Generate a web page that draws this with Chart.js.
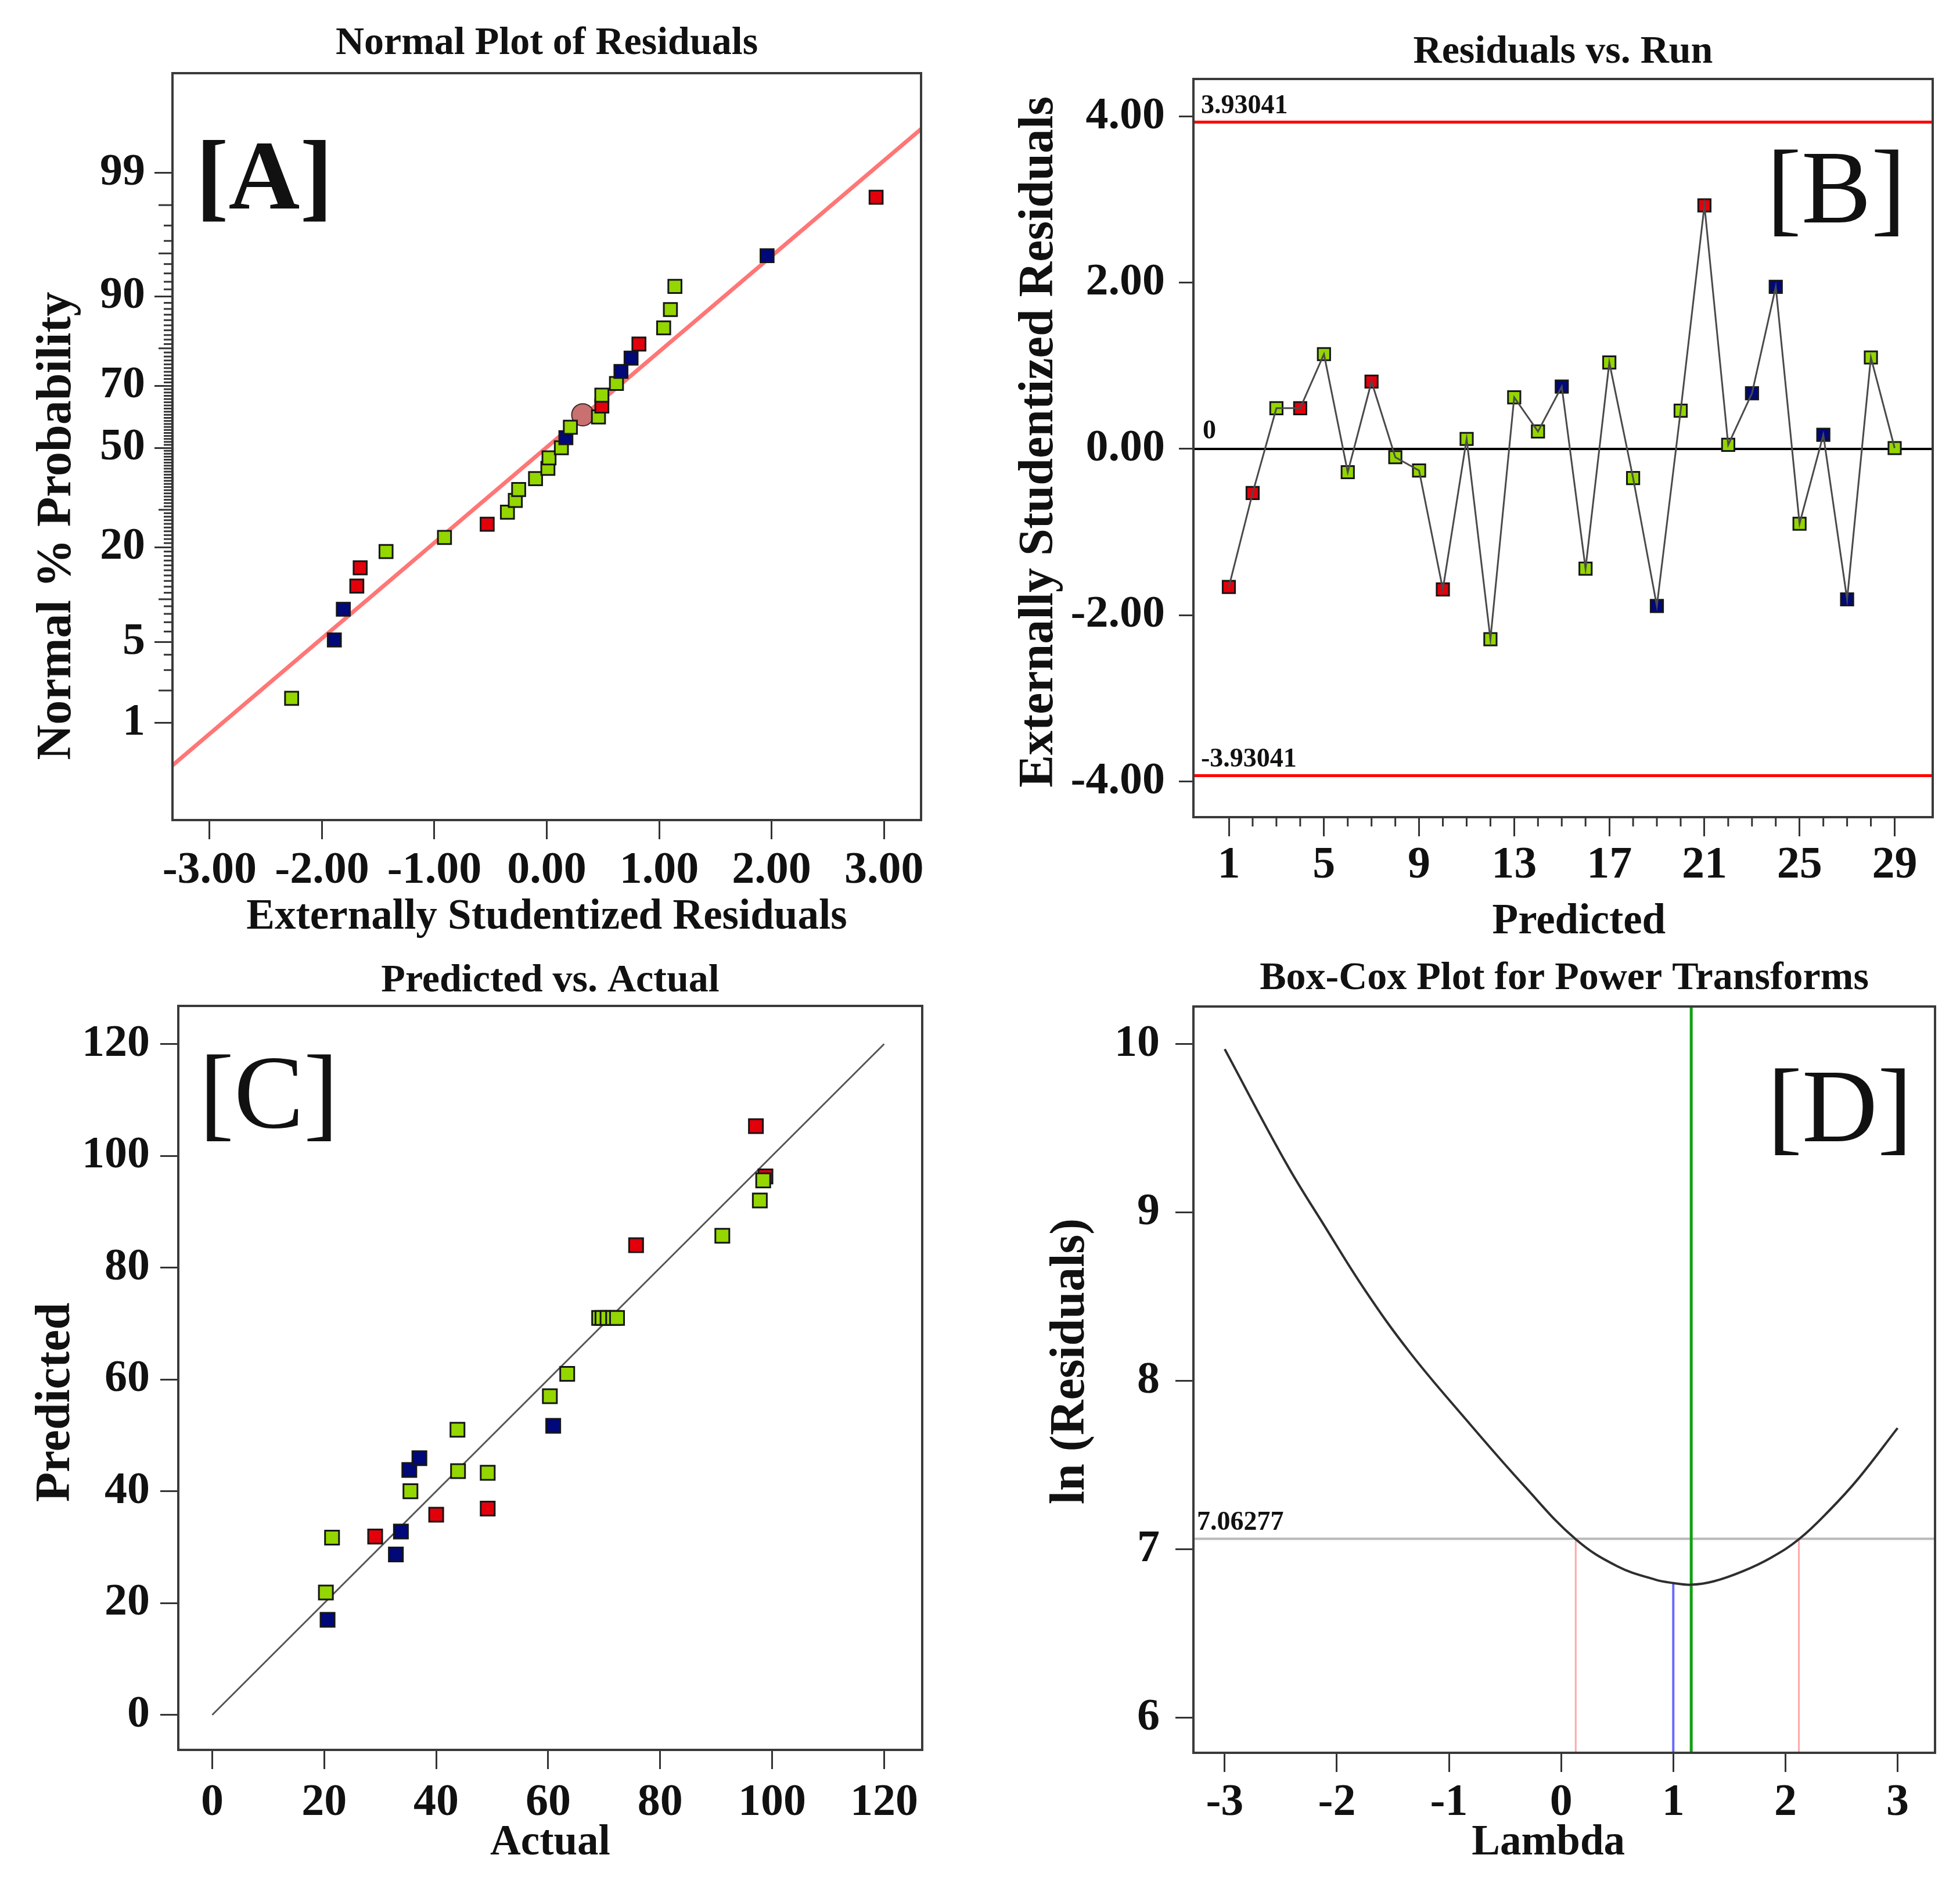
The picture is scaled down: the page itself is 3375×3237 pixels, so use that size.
<!DOCTYPE html>
<html><head><meta charset="utf-8">
<script src="https://cdn.jsdelivr.net/npm/chart.js@4.4.1/dist/chart.umd.min.js"></script>
<style>
html,body{margin:0;padding:0;background:#fff;width:3375px;height:3237px;overflow:hidden;}
canvas{position:absolute;}
</style></head><body>
<canvas id="cA"></canvas><canvas id="cB"></canvas><canvas id="cC"></canvas><canvas id="cD"></canvas>
<script>
// ================= DATA =================
// [A] Normal plot of residuals (residual, normal % probability, factor group)
const normTickProbs = [1, 5, 20, 50, 70, 90, 99];
const normMinorProbs = [2,3,4,6,7,8,9,10,11,12,13,14,15,16,17,18,19,21,22,23,24,25,26,27,28,29,30,31,32,33,34,35,36,37,38,39,40,41,42,43,44,45,46,47,48,49,51,52,53,54,55,56,57,58,59,60,61,62,63,64,65,66,67,68,69,71,72,73,74,75,76,77,78,79,80,81,82,83,84,85,86,87,88,89,91,92,93,94,95,96,97,98];
const normMediumProbs = [2, 10, 30, 80, 95, 98];
const normResTicks = [-3, -2, -1, 0, 1, 2, 3];
const normResiduals = [-2.27, -1.89, -1.81, -1.69, -1.66, -1.43, -0.91, -0.53, -0.35, -0.28, -0.25, -0.10, 0.01, 0.02, 0.13, 0.17, 0.21, 0.46, 0.49, 0.49, 0.62, 0.66, 0.75, 0.82, 1.04, 1.10, 1.14, 1.96, 2.93];
const normProbs = [1.7, 5.2, 8.6, 12.1, 15.5, 19.0, 22.4, 25.9, 29.3, 32.8, 36.2, 39.7, 43.1, 46.6, 50.0, 53.4, 56.9, 60.3, 63.8, 67.2, 70.7, 74.1, 77.6, 81.0, 84.5, 87.9, 91.4, 94.8, 98.3];
const normGroups = ['g','b','b','r','r','g','g','r','g','g','g','g','g','g','g','b','g','g','r','g','g','b','b','r','g','g','g','b','r'];
const normFitResid = [-3.33, 3.33];
const normFitProbs = [0.36, 99.65];
const normHighlightResid = [0.32];
const normHighlightProbs = [61.0];

// [B] Residuals vs. run
const runs = [1,2,3,4,5,6,7,8,9,10,11,12,13,14,15,16,17,18,19,20,21,22,23,24,25,26,27,28,29];
const runResiduals = [-1.66,-0.53,0.49,0.49,1.14,-0.28,0.81,-0.10,-0.26,-1.69,0.12,-2.29,0.62,0.21,0.75,-1.44,1.04,-0.35,-1.89,0.46,2.93,0.05,0.67,1.95,-0.90,0.17,-1.81,1.10,0.01];
const runGroups = ['r','r','g','r','g','g','r','g','g','r','g','g','g','g','b','g','g','g','b','g','r','g','b','b','g','b','b','g','g'];
const runTicks = [1, 5, 9, 13, 17, 21, 25, 29];
const runResidTicks = [-4, -2, 0, 2, 4];
const runLimit = 3.93041;

// [C] Predicted vs. actual
const actualVals =    [97.1, 98.8, 75.7, 29.1, 40.0, 49.2, 20.6, 32.8, 33.7, 35.2, 37.0, 60.9, 20.3, 21.4, 35.4, 43.8, 43.9, 49.2, 60.3, 63.4, 69.1, 69.7, 70.6, 71.6, 72.3, 91.1, 97.8, 98.4];
const predictedVals = [105.3, 96.3, 84.0, 31.9, 35.8, 36.9, 17.0, 28.7, 32.8, 43.8, 45.9, 51.7, 21.9, 31.7, 40.0, 51.0, 43.6, 43.3, 57.0, 61.0, 71.0, 71.0, 71.0, 71.0, 71.0, 85.7, 92.0, 95.6];
const predGroups =    ['r','r','r','r','r','r','b','b','b','b','b','b','g','g','g','g','g','g','g','g','g','g','g','g','g','g','g','g'];
const predTicks = [0, 20, 40, 60, 80, 100, 120];
const diagLine = [0, 120];

// [D] Box-Cox plot for power transforms
const lambdas =  [-3.00, -2.45, -2.11, -1.75, -1.35, -0.86, -0.32, 0.13, 0.50, 0.84, 1.00, 1.16, 1.36, 1.62, 1.87, 2.12, 2.39, 2.65, 3.00];
const lnResid =  [9.97, 9.29, 8.92, 8.54, 8.17, 7.78, 7.37, 7.06, 6.90, 6.82, 6.80, 6.79, 6.81, 6.87, 6.95, 7.06, 7.23, 7.42, 7.72];
const lambdaTicks = [-3, -2, -1, 0, 1, 2, 3];
const lnTicks = [6, 7, 8, 9, 10];
const lambdaBest = 1.16;
const lambdaCurrent = 1;
const lambdaLow = 0.13;
const lambdaHigh = 2.12;
const lnCurrent = 6.80;
const lnCutoff = 7.06277;

// ================= STYLE / LAYOUT =================
const SERIF = "'Liberation Serif','Times New Roman',serif";
const GROUP_COLORS = {r:'#e3000b', b:'#00087a', g:'#94d600'};
const TF = 68, XF = 73, YF = 84, KF = 78;
const LH = 1.2;
const sp = n => ' '.repeat(n);

function probit(p) {
  const a=[-3.969683028665376e+01,2.209460984245205e+02,-2.759285104469687e+02,1.383577518672690e+02,-3.066479806614716e+01,2.506628277459239e+00];
  const b=[-5.447609879822406e+01,1.615858368580409e+02,-1.556989798598866e+02,6.680131188771972e+01,-1.328068155288572e+01];
  const c=[-7.784894002430293e-03,-3.223964580411365e-01,-2.400758277161838e+00,-2.549732539343734e+00,4.374664141464968e+00,2.938163982698783e+00];
  const d=[7.784695709041462e-03,3.224671290700398e-01,2.445134137142996e+00,3.754408661907416e+00];
  const pl=0.02425, ph=1-pl; let q, r;
  if (p < pl) { q=Math.sqrt(-2*Math.log(p)); return (((((c[0]*q+c[1])*q+c[2])*q+c[3])*q+c[4])*q+c[5])/((((d[0]*q+d[1])*q+d[2])*q+d[3])*q+1); }
  if (p > ph) { q=Math.sqrt(-2*Math.log(1-p)); return -(((((c[0]*q+c[1])*q+c[2])*q+c[3])*q+c[4])*q+c[5])/((((d[0]*q+d[1])*q+d[2])*q+d[3])*q+1); }
  q=p-0.5; r=q*q;
  return (((((a[0]*r+a[1])*r+a[2])*r+a[3])*r+a[4])*r+a[5])*q/(((((b[0]*r+b[1])*r+b[2])*r+b[3])*r+b[4])*r+1);
}
const pz = p => probit(p / 100);

function framePlugin() {
  return { id: 'frame', afterDraw(chart) {
    const {ctx, chartArea: a} = chart;
    ctx.save(); ctx.strokeStyle = '#3a3a3a'; ctx.lineWidth = 4;
    ctx.strokeRect(a.left, a.top, a.right - a.left, a.bottom - a.top);
    ctx.restore();
  }};
}
function minorTicksPlugin(sets) {
  return { id: 'minorTicks', afterDraw(chart) {
    const ctx = chart.ctx; ctx.save(); ctx.strokeStyle = '#333'; ctx.lineWidth = 3;
    for (const set of sets) {
      const s = chart.scales[set.scale];
      for (const v of set.values) {
        const px = s.getPixelForValue(v);
        ctx.beginPath();
        if (s.isHorizontal()) { ctx.moveTo(px, s.top); ctx.lineTo(px, s.top + set.length); }
        else { ctx.moveTo(s.right, px); ctx.lineTo(s.right - set.length, px); }
        ctx.stroke();
      }
    }
    ctx.restore();
  }};
}
function textPlugin(items) {
  return { id: 'texts', afterDraw(chart) {
    const ctx = chart.ctx, a = chart.chartArea;
    ctx.save(); ctx.fillStyle = '#111'; ctx.textBaseline = 'alphabetic';
    for (const it of items) {
      ctx.font = it.font; ctx.textAlign = it.align || 'left';
      const x = it.fromRight ? a.right - it.dx : a.left + it.dx;
      const y = (it.yValue !== undefined) ? chart.scales.y.getPixelForValue(it.yValue) - it.dy : a.top + it.dy;
      ctx.fillText(it.text, x, y);
    }
    ctx.restore();
  }};
}

function build(id, g, datasets, extraPlugins) {
  const cv = document.getElementById(id);
  cv.width = g.CW; cv.height = g.CH;
  cv.style.left = g.CL + 'px'; cv.style.top = g.CT + 'px';
  cv.style.width = g.CW + 'px'; cv.style.height = g.CH + 'px';
  const W = g.box.l - g.CL, H = g.CT + g.CH - g.box.b, pR = g.CL + g.CW - g.box.r;
  const tp = g.titleY - g.CT - TF * LH / 2;
  const tb = g.box.t - g.CT - tp - TF * LH;
  const tickFont = {family: SERIF, size: KF, weight: 'bold', lineHeight: LH};
  return new Chart(cv, {
    type: 'scatter',
    data: {datasets},
    options: {
      responsive: false, animation: false, devicePixelRatio: 1,
      layout: {padding: {left: 0, top: 0, right: pR, bottom: 0}, autoPadding: false},
      plugins: {
        legend: {display: false}, tooltip: {enabled: false},
        title: {display: true, text: g.title, fullSize: false, color: '#111',
          font: {family: SERIF, size: TF, weight: 'bold', lineHeight: LH},
          padding: {top: tp, bottom: tb}}
      },
      scales: {
        x: {type: 'linear', position: 'bottom', min: g.x.min, max: g.x.max,
          afterFit: s => { s.height = H; },
          afterBuildTicks: s => { s.ticks = g.x.ticks.map(v => ({value: v})); },
          ticks: {autoSkip: false, maxRotation: 0, minRotation: 0, color: '#111', font: tickFont,
            padding: g.xLabelY - g.box.b - g.x.tl - KF * LH / 2,
            callback: (v, i) => g.x.labels[i]},
          grid: {display: true, drawOnChartArea: false, drawTicks: true, tickLength: g.x.tl, tickWidth: 3, tickColor: '#333'},
          border: {display: false},
          title: {display: true, text: g.xTitle, color: '#111',
            font: {family: SERIF, size: XF, weight: 'bold', lineHeight: LH},
            padding: {top: 0, bottom: g.CT + g.CH - XF * LH / 2 - g.xTitleY}}
        },
        y: {type: 'linear', position: 'left', min: g.y.min, max: g.y.max,
          afterFit: s => { s.width = W; },
          afterBuildTicks: s => { s.ticks = g.y.ticks.map(v => ({value: v})); },
          ticks: {autoSkip: false, color: '#111', font: tickFont,
            padding: g.box.l - g.y.tl - g.yLabelRight,
            callback: (v, i) => g.y.labels[i]},
          grid: {display: true, drawOnChartArea: false, drawTicks: true, tickLength: g.y.tl, tickWidth: 3, tickColor: '#333'},
          border: {display: false},
          title: {display: true, text: g.yTitle, color: '#111',
            font: {family: SERIF, size: YF, weight: 'bold', lineHeight: LH},
            padding: {top: g.yTitleX - g.CL - YF * LH / 2, bottom: 0}}
        }
      }
    },
    plugins: [framePlugin()].concat(extraPlugins || [])
  });
}

const sq = (xs, ys, groups, r) => ({
  data: xs.map((x, i) => ({x, y: ys[i]})),
  pointStyle: 'rect', pointRadius: r, pointHoverRadius: r,
  backgroundColor: groups.map(k => GROUP_COLORS[k]),
  borderColor: '#161616', borderWidth: 3, showLine: false
});
const seg = (xs, ys, color, w) => ({
  data: xs.map((x, i) => ({x, y: ys[i]})), showLine: true, pointRadius: 0,
  borderColor: color, borderWidth: w, backgroundColor: color, fill: false
});

// ================= [A] =================
const A_X = {min: -3.33, max: 3.33}, A_Y = {min: -3.15, max: 3.17};
build('cA', {
  CL: 0, CT: 0, CW: 1650, CH: 1660, box: {l: 297, r: 1586, t: 126, b: 1412},
  title: 'Normal Plot of Residuals', titleY: 75,
  xTitle: 'Externally Studentized Residuals', xTitleY: 1580, xLabelY: 1500,
  yTitle: 'Normal % Probability' + sp(13), yTitleX: 99, yLabelRight: 250,
  x: {min: A_X.min, max: A_X.max, ticks: normResTicks, labels: normResTicks.map(v => v.toFixed(2)), tl: 33},
  y: {min: A_Y.min, max: A_Y.max, ticks: normTickProbs.map(pz), labels: normTickProbs.map(String), tl: 31}
}, [
  sq(normResiduals, normProbs.map(pz), normGroups, 16),
  {data: normHighlightResid.map((x, i) => ({x, y: pz(normHighlightProbs[i])})), pointStyle: 'circle',
   pointRadius: 19, backgroundColor: '#c97070', borderColor: '#3a2a2a', borderWidth: 2, showLine: false},
  seg(normFitResid, normFitProbs.map(pz), '#ff7676', 7)
], [
  minorTicksPlugin([
    {scale: 'y', values: normMinorProbs.filter(p => normMediumProbs.indexOf(p) < 0).map(pz), length: 15},
    {scale: 'y', values: normMediumProbs.map(pz), length: 24}
  ]),
  textPlugin([{text: '[A]', font: `bold 170px ${SERIF}`, dx: 40, dy: 233}])
]);

// ================= [B] =================
const B_X = {min: -0.49, max: 30.6}, B_Y = {min: -4.43, max: 4.45};
build('cB', {
  CL: 1700, CT: 0, CW: 1675, CH: 1660, box: {l: 2055, r: 3328, t: 136, b: 1407},
  title: 'Residuals vs. Run', titleY: 90,
  xTitle: sp(3) + 'Predicted', xTitleY: 1588, xLabelY: 1491,
  yTitle: sp(1) + 'Externally Studentized Residuals', yTitleX: 1790, yLabelRight: 2006,
  x: {min: B_X.min, max: B_X.max, ticks: runTicks, labels: runTicks.map(String), tl: 33},
  y: {min: B_Y.min, max: B_Y.max, ticks: runResidTicks, labels: runResidTicks.map(v => v.toFixed(2)), tl: 25}
}, [
  seg(runs, runResiduals, '#4a4a4a', 3),
  sq(runs, runResiduals, runGroups, 15),
  seg([B_X.min, B_X.max], [0, 0], '#000000', 4),
  seg([B_X.min, B_X.max], [runLimit, runLimit], '#ff0000', 5),
  seg([B_X.min, B_X.max], [-runLimit, -runLimit], '#ff0000', 5)
], [
  minorTicksPlugin([{scale: 'x', values: runs.filter(r => runTicks.indexOf(r) < 0), length: 16}]),
  textPlugin([
    {text: runLimit.toFixed(5), font: `bold 46px ${SERIF}`, dx: 13, yValue: runLimit, dy: 15},
    {text: (-runLimit).toFixed(5), font: `bold 46px ${SERIF}`, dx: 13, yValue: -runLimit, dy: 15},
    {text: '0', font: `bold 46px ${SERIF}`, dx: 16, yValue: 0, dy: 18},
    {text: '[B]', font: `180px ${SERIF}`, align: 'right', fromRight: true, dx: 46, dy: 247}
  ])
]);

// ================= [C] =================
const C_X = {min: -6.06, max: 126.8}, C_Y = {min: -6.26, max: 126.8};
build('cC', {
  CL: 0, CT: 1640, CW: 1650, CH: 1597, box: {l: 307, r: 1588, t: 1732, b: 3013},
  title: 'Predicted vs. Actual', titleY: 1689,
  xTitle: 'Actual', xTitleY: 3174, xLabelY: 3105,
  yTitle: 'Predicted' + sp(4), yTitleX: 97, yLabelRight: 258,
  x: {min: C_X.min, max: C_X.max, ticks: predTicks, labels: predTicks.map(String), tl: 33},
  y: {min: C_Y.min, max: C_Y.max, ticks: predTicks, labels: predTicks.map(String), tl: 31}
}, [
  sq(actualVals, predictedVals, predGroups, 17),
  seg(diagLine, diagLine, '#555555', 3)
], [
  textPlugin([{text: '[C]', font: `180px ${SERIF}`, dx: 36, dy: 209}])
]);

// ================= [D] =================
const D_X = {min: -3.279, max: 3.334}, D_Y = {min: 5.792, max: 10.223};
build('cD', {
  CL: 1700, CT: 1640, CW: 1675, CH: 1597, box: {l: 2055, r: 3332, t: 1733, b: 3018},
  title: 'Box-Cox Plot for Power Transforms', titleY: 1685,
  xTitle: 'Lambda' + sp(3), xTitleY: 3174, xLabelY: 3105,
  yTitle: sp(3) + 'ln (Residuals)', yTitleX: 1844, yLabelRight: 1997,
  x: {min: D_X.min, max: D_X.max, ticks: lambdaTicks, labels: lambdaTicks.map(String), tl: 33},
  y: {min: D_Y.min, max: D_Y.max, ticks: lnTicks, labels: lnTicks.map(String), tl: 31}
}, [
  Object.assign(seg(lambdas, lnResid, '#2e2e2e', 4), {tension: 0.4}),
  seg([lambdaBest, lambdaBest], [D_Y.min, D_Y.max], '#12a012', 5),
  seg([D_X.min, D_X.max], [lnCutoff, lnCutoff], '#b9b9b9', 4),
  seg([lambdaCurrent, lambdaCurrent], [D_Y.min, lnCurrent], '#6a6aff', 4),
  seg([lambdaLow, lambdaLow], [D_Y.min, lnCutoff], '#ffa8a8', 3),
  seg([lambdaHigh, lambdaHigh], [D_Y.min, lnCutoff], '#ffa8a8', 3)
], [
  textPlugin([
    {text: lnCutoff.toFixed(5), font: `bold 46px ${SERIF}`, dx: 6, yValue: lnCutoff, dy: 15},
    {text: '[D]', font: `180px ${SERIF}`, align: 'right', fromRight: true, dx: 39, dy: 232}
  ])
]);
</script>
</body></html>
